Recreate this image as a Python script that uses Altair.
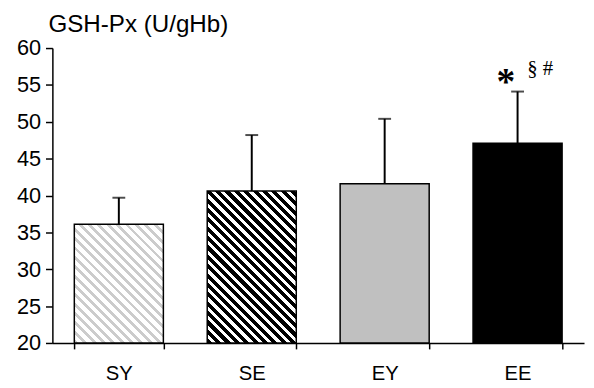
import altair as alt
import pandas as pd

categories = ["SY", "SE", "EY", "EE"]
means = [36.1, 40.6, 41.6, 47.1]
upper = [39.7, 48.2, 50.4, 54.1]
y_ticks = [20, 25, 30, 35, 40, 45, 50, 55, 60]
title_text = ["GSH-Px (U/gHb)"]

W, H = 539, 299
Y0, Y1 = 20, 60
BAR_W = W / 4 * (1 - 0.33)

df = pd.DataFrame({"group": categories, "mean": means, "upper": upper, "base": [Y0] * 4})


def stripes(value, color_a, color_b, frac_a, period=9.5):
    w = BAR_W
    h = (value - Y0) / (Y1 - Y0) * H
    n = (w + h) / period
    k = (w + h) / (w * w + h * h)
    x2 = k * w
    y2 = 1 - k * h
    stops = []
    i = 0
    while i / n < 1:
        a0 = i / n
        a1 = min((i + frac_a) / n, 1)
        b1 = min((i + 1) / n, 1)
        stops.append(alt.GradientStop(offset=a0, color=color_a))
        stops.append(alt.GradientStop(offset=a1, color=color_a))
        if a1 < 1:
            stops.append(alt.GradientStop(offset=a1, color=color_b))
            stops.append(alt.GradientStop(offset=b1, color=color_b))
        i += 1
    return alt.Gradient(gradient="linear", stops=stops, x1=0, y1=1, x2=x2, y2=y2)


fills = {
    "SY": stripes(means[0], "#cccccc", "#ffffff", 0.42, period=9.5),
    "SE": stripes(means[1], "#000000", "#ffffff", 0.55, period=9.5),
    "EY": "#c0c0c0",
    "EE": "#000000",
}

xenc = alt.X(
    "group:N",
    sort=categories,
    scale=alt.Scale(paddingInner=0.33, paddingOuter=0.165),
    axis=alt.Axis(title=None, labelAngle=0, tickBand="extent"),
)
yscale = alt.Scale(domain=[Y0, Y1], zero=False, nice=False)
yaxis = alt.Axis(title=None, values=y_ticks, grid=False)


def yenc(field):
    return alt.Y(field, type="quantitative", scale=yscale, axis=yaxis)


base = alt.Chart(df).encode(x=xenc)

layers = []
for g in categories:
    layers.append(
        base.transform_filter(alt.datum.group == g)
        .mark_bar(fill=fills[g], stroke="black", strokeWidth=1.5)
        .encode(y=yenc("mean"), y2="base:Q")
    )

err = base.mark_rule(color="black", strokeWidth=2).encode(y=yenc("mean"), y2="upper:Q")
cap = base.mark_tick(color="black", thickness=2, size=13, orient="horizontal").encode(
    y=yenc("upper")
)

ann_txt = ["*", "§ #"]
ann = pd.DataFrame({"group": ["EE", "EE"], "upper": [upper[3], upper[3]], "txt": ann_txt})
abase = alt.Chart(ann).encode(x=xenc, y=yenc("upper"), text="txt:N")
star = abase.transform_filter(alt.datum.txt == "*").mark_text(
    font="Liberation Serif", fontSize=38, fontWeight="bold", color="black",
    dx=-12, dy=-9, baseline="middle",
)
sym = abase.transform_filter(alt.datum.txt != "*").mark_text(
    font="Liberation Serif", fontSize=21, color="black",
    dx=23, dy=-23, baseline="middle",
)

title = alt.Chart(pd.DataFrame({"t": title_text})).mark_text(
    font="Liberation Sans", fontSize=24.5, color="black", align="left",
    baseline="alphabetic",
).encode(x=alt.value(-4), y=alt.value(-16), text="t:N")

chart = (
    alt.layer(*layers, err, cap, star, sym, title)
    .properties(
        width=W,
        height=H,
        autosize=alt.AutoSizeParams(type="none"),
        padding={"left": 45, "top": 38, "right": 2, "bottom": 40},
    )
    .configure_view(stroke=None)
    .configure_axis(
        labelFont="Liberation Sans", labelColor="black", domainColor="black",
        domainWidth=1.5, tickColor="black", tickWidth=1.5,
    )
    .configure_axisX(labelFontSize=20.5, labelPadding=15, tickSize=6)
    .configure_axisY(labelFontSize=22, labelPadding=5, tickSize=7)
)

chart.save("out.html", embed_options={"renderer": "svg", "actions": False})
